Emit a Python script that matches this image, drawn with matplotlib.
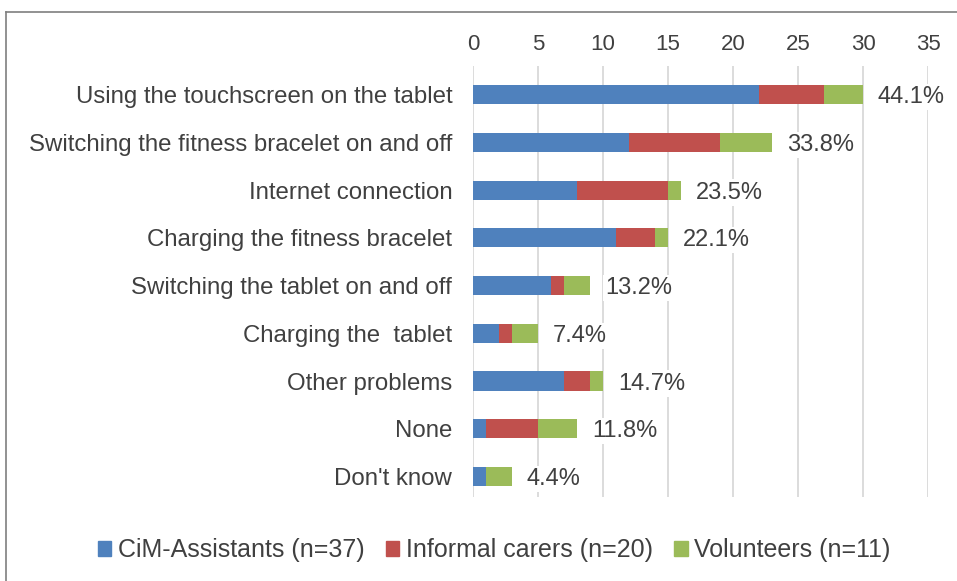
import matplotlib
matplotlib.use("Agg")
import matplotlib.pyplot as plt
from matplotlib.lines import Line2D
import numpy as np

plt.rcParams['font.family'] = ['Liberation Sans', 'DejaVu Sans']

categories = ["Using the touchscreen on the tablet",
              "Switching the fitness bracelet on and off",
              "Internet connection",
              "Charging the fitness bracelet",
              "Switching the tablet on and off",
              "Charging the  tablet",
              "Other problems",
              "None",
              "Don't know"]
cim = [22, 12, 8, 11, 6, 2, 7, 1, 1]
carers = [5, 7, 7, 3, 1, 1, 2, 4, 0]
volunteers = [3, 4, 1, 1, 2, 2, 1, 3, 2]
pct_labels = ["44.1%", "33.8%", "23.5%", "22.1%", "13.2%", "7.4%", "14.7%", "11.8%", "4.4%"]
series_names = ["CiM-Assistants (n=37)", "Informal carers (n=20)", "Volunteers (n=11)"]
colors = ["#4F81BD", "#C0504D", "#9BBB59"]

W, H = 957, 581
fig = plt.figure(figsize=(W/100, H/100), dpi=100)
ax = fig.add_axes([473/W, 1-497/H, (928-473)/W, (497-66)/H])

y = np.arange(len(categories))
cim_a = np.array(cim); car_a = np.array(carers); vol_a = np.array(volunteers)
h = 0.4
ax.barh(y, cim_a, height=h, color=colors[0], label=series_names[0])
ax.barh(y, car_a, left=cim_a, height=h, color=colors[1], label=series_names[1])
ax.barh(y, vol_a, left=cim_a+car_a, height=h, color=colors[2], label=series_names[2])
tot = cim_a + car_a + vol_a
for yi, t, lab in zip(y, tot, pct_labels):
    ax.text(t + 1.15, yi, lab, va='center_baseline', ha='left', fontsize=17, color='#404040',
            bbox=dict(facecolor='white', edgecolor='none', pad=1.5))

ax.set_xlim(0, 35)
ax.set_ylim(8.43, -0.6)
ax.set_xticks(range(0, 36, 5))
ax.xaxis.tick_top()
ax.tick_params(axis='x', length=0, labelsize=16, labelcolor='#404040', pad=8)
ax.set_yticks(y)
ax.set_yticklabels(categories)
ax.tick_params(axis='y', length=0, labelsize=17.3, labelcolor='#404040', pad=15)
ax.grid(axis='x', color='#D9D9D9', linewidth=1.3)
ax.set_axisbelow(True)
for s in ax.spines.values():
    s.set_visible(False)

handles = [plt.Rectangle((0, 0), 1, 1, color=c) for c in colors]
fig.legend(handles, series_names, loc='center', bbox_to_anchor=(494/W, 1-550/H), ncol=3,
           frameon=False, fontsize=18, handlelength=0.55, handleheight=0.55, handletextpad=0.25,
           columnspacing=0.85, labelcolor='#404040')

fig.add_artist(Line2D([6/W, 6/W], [0, 1-12/H], color='#7F7F7F', linewidth=1.2, transform=fig.transFigure))
fig.add_artist(Line2D([6/W, 1], [1-12/H, 1-12/H], color='#7F7F7F', linewidth=1.2, transform=fig.transFigure))

fig.savefig("out.png", dpi=100)
